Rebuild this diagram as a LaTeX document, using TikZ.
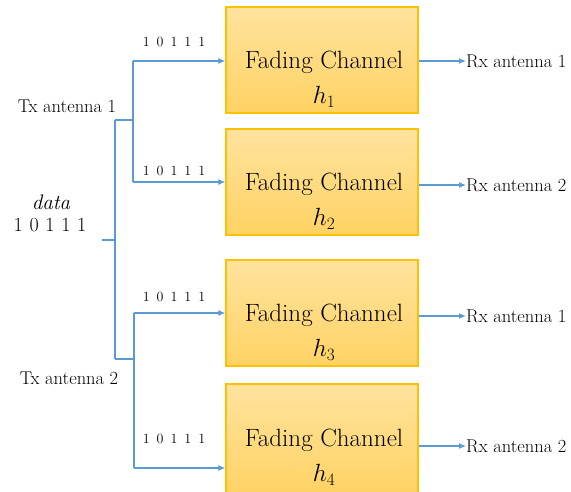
\documentclass[tikz,border=0pt]{standalone}
\usetikzlibrary{arrows.meta}
\definecolor{wire}{HTML}{5B9BD5}
\definecolor{boxtop}{HTML}{FFE39E}
\definecolor{boxbot}{HTML}{FFD263}
\definecolor{boxedge}{HTML}{FFC000}
\begin{document}
\begin{tikzpicture}[x=1pt,y=-1pt,
  chan/.style={draw=boxedge,line width=1.2pt,top color=boxtop,bottom color=boxbot,
    minimum width=192pt,minimum height=106pt,inner sep=0pt},
  chantext/.style={align=center,font=\fontsize{25}{35}\selectfont},
  bits/.style={font=\fontsize{14}{15}\selectfont,inner sep=0pt},
  lbl/.style={font=\fontsize{18.5}{20}\selectfont,inner sep=0pt},
  wireline/.style={draw=wire,line width=1.1pt},
  feed/.style={wireline,-{Latex[length=7pt,width=6pt]}}]
\useasboundingbox (0,0) rectangle (571,491);

% fading channel blocks
\node[chan] (b1) at (322,60) {};
\node[chan] (b2) at (322,182) {};
\node[chan] (b3) at (322,313) {};
\node[chan,minimum height=112pt] (b4) at (322,440) {};
\node[chantext] (t1) at (324,79) {Fading Channel\\$h_1$};
\node[chantext] (t2) at (324,201) {Fading Channel\\$h_2$};
\node[chantext] (t3) at (324,332) {Fading Channel\\$h_3$};
\node[chantext] (t4) at (324,457) {Fading Channel\\$h_4$};

% source and transmit antennas
\node[lbl,font=\fontsize{21}{22}\selectfont\itshape] (dt) at (51,202) {data};
\node[lbl,font=\fontsize{20}{22}\selectfont] (db) at (50,225) {1\,\,0\,\,1\,\,1\,\,1};
\node[lbl] (tx1) at (67,106) {Tx antenna 1};
\node[lbl] (tx2) at (69,378) {Tx antenna 2};

% splitting points
\coordinate (d0) at (102,240);
\coordinate (dj) at (115,240);
\coordinate (ta) at (115,120);
\coordinate (tb) at (115,359);
\coordinate (fa) at (133,120);
\coordinate (fb) at (134,359);
\coordinate (a1) at (133,61);
\coordinate (a2) at (133,182);
\coordinate (a3) at (134,313);
\coordinate (a4) at (134,468);

\path[wireline] (d0) -- (dj);
\path[wireline] (ta) -- (tb);
\path[wireline] (ta) -- (fa);
\path[wireline] (tb) -- (fb);
\path[wireline] (a1) -- (a2);
\path[wireline] (a3) -- (a4);
\path[feed] (a1) -- (a1 -| b1.west);
\path[feed] (a2) -- (a2 -| b2.west);
\path[feed] (a3) -- (a3 -| b3.west);
\path[feed] (a4) -- (a4 -| b4.west);

% bit streams on each branch
\node[bits] (s1) at (174,42) {1\,\,\,0\,\,\,1\,\,\,1\,\,\,1};
\node[bits] (s2) at (174,171) {1\,\,\,0\,\,\,1\,\,\,1\,\,\,1};
\node[bits] (s3) at (174,297) {1\,\,\,0\,\,\,1\,\,\,1\,\,\,1};
\node[bits] (s4) at (174,439) {1\,\,\,0\,\,\,1\,\,\,1\,\,\,1};

% receive antennas
\node[lbl,anchor=west] (r1) at (466,61) {Rx antenna 1};
\node[lbl,anchor=west] (r2) at (466,185) {Rx antenna 2};
\node[lbl,anchor=west] (r3) at (466,316) {Rx antenna 1};
\node[lbl,anchor=west] (r4) at (466,446) {Rx antenna 2};
\path[feed] (b1.east |- r1.west) -- (r1.west);
\path[feed] (b2.east |- r2.west) -- (r2.west);
\path[feed] (b3.east |- r3.west) -- (r3.west);
\path[feed] (b4.east |- r4.west) -- (r4.west);
\end{tikzpicture}
\end{document}
